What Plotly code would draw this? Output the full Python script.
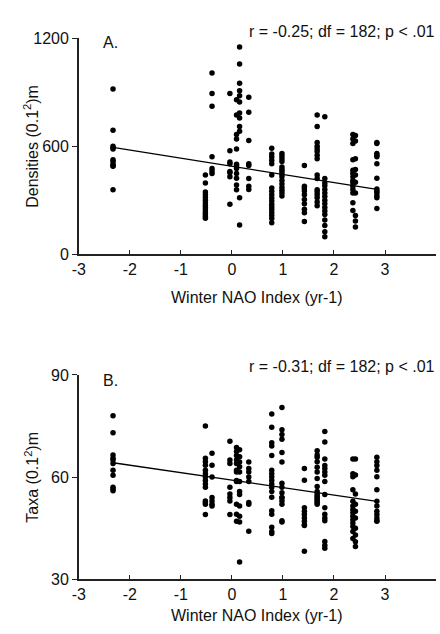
import plotly.graph_objects as go

# Winter NAO index of each sampling year (x position of each column of samples)
nao_columns = [-2.33, -0.52, -0.39, -0.04, 0.09, 0.15, 0.33, 0.78, 0.98,
               1.42, 1.67, 1.82, 2.37, 2.42, 2.84]

# Macrofauna densities per sample, grouped by year (same order as nao_columns)
density_groups = [
    [917, 688, 600, 592, 584, 525, 515, 500, 492, 488, 358],
    [440, 395, 345, 330, 315, 300, 285, 270, 258, 245, 232, 220, 210, 200],
    [1007, 893, 822, 542, 476, 462, 449],
    [893, 575, 512, 503, 459, 452, 430, 277],
    [858, 773, 665, 640, 584, 500, 490, 476, 449, 422, 385, 358],
    [1151, 1056, 950, 908, 880, 845, 784, 757, 710, 683, 313, 162],
    [872, 789, 632, 503, 493, 420, 377, 360],
    [589, 557, 540, 522, 503, 440, 368, 350, 330, 312, 295, 278, 262, 248, 232, 215, 198, 175],
    [560, 545, 530, 515, 485, 470, 459, 445, 430, 410, 390, 370, 355, 340, 324],
    [493, 378, 365, 351, 330, 304, 280, 250, 230, 182],
    [773, 710, 621, 600, 585, 570, 550, 530, 440, 420, 358, 345, 330, 313, 290, 269],
    [764, 420, 395, 380, 360, 340, 320, 300, 280, 260, 240, 220, 190, 160, 125, 97],
    [665, 640, 615, 525, 466, 450, 430, 410, 395, 378, 360, 340, 286, 243],
    [659, 629, 530, 470, 440, 400, 340, 215, 185, 151],
    [620, 615, 560, 550, 542, 503, 422, 362, 350, 340, 325, 313, 254],
]

# Number of taxa per sample, grouped by year
taxa_groups = [
    [78, 73, 66.5, 65.5, 65, 64, 62, 60.5, 57, 56.5, 56],
    [75, 65.5, 64.5, 63.5, 62, 61, 60, 59, 58, 57, 53, 52.5, 52, 49],
    [67, 63.5, 60, 54, 53, 52, 51.5],
    [70.5, 65, 64, 57, 55, 54, 53, 49],
    [68.7, 67.5, 66.3, 65, 64, 62, 61.5, 59, 58.7, 52, 49.1, 47],
    [68, 66, 64.4, 63, 61.5, 58.7, 55.8, 54.9, 51.5, 48.5, 46.8, 35.1],
    [64.4, 62.5, 61.5, 60, 58.7, 52.5, 52, 44.1],
    [78.5, 74.6, 70.1, 69.1, 66.3, 62, 61, 60, 59, 58, 57, 55.8, 54.1, 50.1, 49.1, 45.3, 44, 43.4],
    [80.4, 73.9, 72.5, 71.1, 67.2, 64.4, 58.2, 57, 55.4, 54, 53.9, 53, 52, 47.2, 46.8],
    [62.5, 59.1, 51, 50, 49, 48, 47, 46, 45.8, 38.2],
    [67.7, 66.5, 65.8, 64.5, 62.9, 61.5, 59.6, 57.2, 55.8, 55, 54.5, 54, 53.5, 53, 52.5, 52],
    [73.4, 70.3, 65.3, 63.4, 62.5, 61.5, 60.5, 58.7, 54.9, 51, 49.1, 48, 47.2, 41.1, 40, 39.1],
    [65.3, 61, 60.1, 56.3, 52.9, 51.5, 50.5, 49.5, 48.5, 47.5, 46.5, 45.5, 44, 42],
    [65.3, 60.6, 55, 52, 50, 48, 45, 43, 41, 39.6],
    [65.8, 64.5, 63.4, 62, 60.1, 56.3, 52.9, 51.5, 50, 49, 48, 47.2, 47],
]

# Least-squares lines (intercept, slope)
fit_density = [488.0, -45.0]
fit_taxa = [59.1, -2.19]

stats_density = "r = -0.25; df = 182; p < .01"
stats_taxa = "r = -0.31; df = 182; p < .01"

x_ticks = [-3, -2, -1, 0, 1, 2, 3, 4]
x_tick_labels = ["-3", "-2", "-1", "0", "1", "2", "3", "4"]
density_ticks = [0, 600, 1200]
taxa_ticks = [30, 60, 90]

nao_a = [x for x, g in zip(nao_columns, density_groups) for _ in g]
dens = [v for g in density_groups for v in g]
nao_b = [x for x, g in zip(nao_columns, taxa_groups) for _ in g]
taxa = [v for g in taxa_groups for v in g]

x_line = [min(nao_columns), max(nao_columns)]

FONT = "Liberation Sans, Arial, sans-serif"
INK = "#111111"
W, H = 440, 634

fig = go.Figure()

marker = dict(color="black", size=5.5, line=dict(width=0))
fig.add_trace(go.Scatter(x=nao_a, y=dens, mode="markers", marker=marker,
                         xaxis="x", yaxis="y", showlegend=False))
fig.add_trace(go.Scatter(x=x_line, y=[fit_density[0] + fit_density[1] * x for x in x_line],
                         mode="lines", line=dict(color="black", width=1.3),
                         xaxis="x", yaxis="y", showlegend=False))
fig.add_trace(go.Scatter(x=nao_b, y=taxa, mode="markers", marker=marker,
                         xaxis="x2", yaxis="y2", showlegend=False))
fig.add_trace(go.Scatter(x=x_line, y=[fit_taxa[0] + fit_taxa[1] * x for x in x_line],
                         mode="lines", line=dict(color="black", width=1.3),
                         xaxis="x2", yaxis="y2", showlegend=False))

x_dom = [73 / W, 436 / W]
ya_dom = [1 - 253 / H, 1 - 31 / H]
yb_dom = [1 - 587 / H, 1 - 377 / H]

xaxis_style = dict(range=[-3, 4], tickvals=x_ticks, ticktext=x_tick_labels,
                   showgrid=False, zeroline=False,
                   showline=True, linecolor="#222", linewidth=1.6, ticks="inside",
                   ticklen=4, tickwidth=1.2, tickcolor="#222", domain=x_dom,
                   tickfont=dict(family=FONT, size=16, color=INK), fixedrange=True)
yaxis_style = dict(showgrid=False, zeroline=False, showline=True, linecolor="#222",
                   linewidth=1.6, ticks="outside", ticklen=5, tickwidth=1.2,
                   tickcolor="#222", tickfont=dict(family=FONT, size=16, color=INK),
                   fixedrange=True)

fig.update_layout(
    width=W, height=H, autosize=False,
    margin=dict(l=0, r=0, t=0, b=0),
    paper_bgcolor="white", plot_bgcolor="white",
    font=dict(family=FONT, size=16, color=INK),
    xaxis=dict(xaxis_style, anchor="y"),
    yaxis=dict(yaxis_style, range=[0, 1200], tickvals=density_ticks, domain=ya_dom, anchor="x"),
    xaxis2=dict(xaxis_style, anchor="y2"),
    yaxis2=dict(yaxis_style, range=[30, 90], tickvals=taxa_ticks, domain=yb_dom, anchor="x2"),
)

def label(text, x, y, xanchor="center", yanchor="middle", angle=0):
    fig.add_annotation(text=text, x=x / W, y=1 - y / H, xref="paper", yref="paper",
                       xanchor=xanchor, yanchor=yanchor, textangle=angle,
                       showarrow=False, font=dict(family=FONT, size=16, color=INK))

label("A.", 96, 35, xanchor="left")
label("B.", 96, 383, xanchor="left")
label(stats_density, 437, 24, xanchor="right")
label(stats_taxa, 437, 368, xanchor="right")
label("Winter NAO Index (yr-1)", 254, 297)
label("Winter NAO Index (yr-1)", 254, 624)
label("Densities (0.1<sup>2</sup>)m", 25, 142, angle=-90)
label("Taxa (0.1<sup>2</sup>)m", 25, 482, angle=-90)

fig.write_html("out.html")
